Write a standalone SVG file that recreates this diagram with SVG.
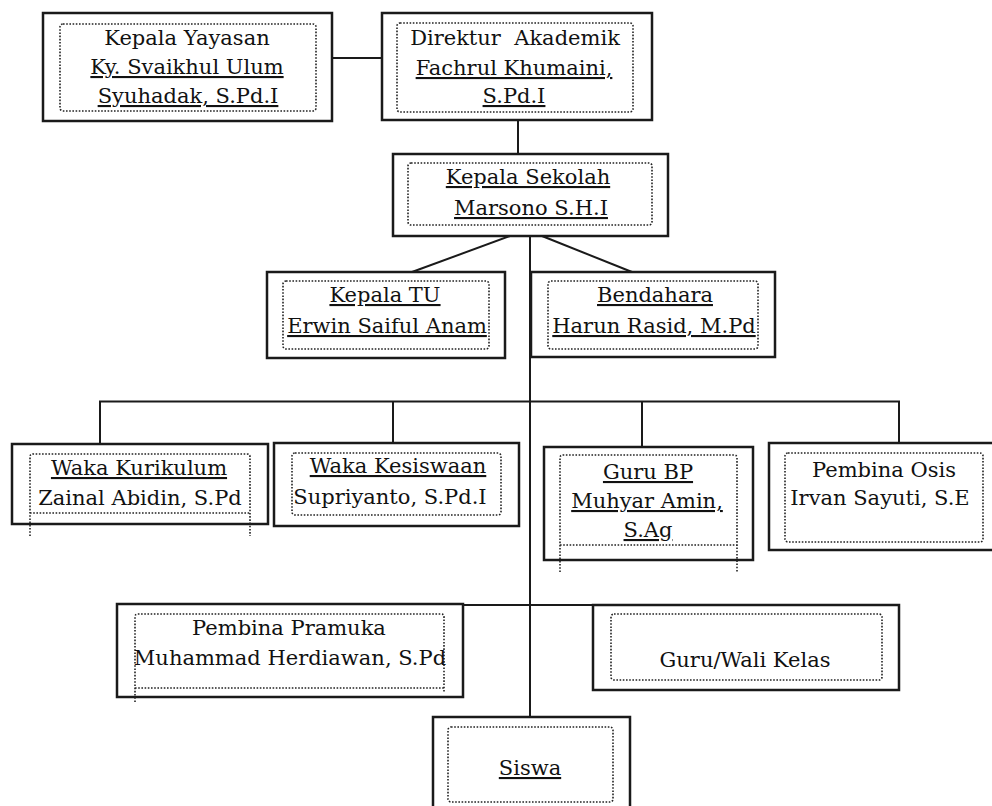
<svg xmlns="http://www.w3.org/2000/svg" width="992" height="806" viewBox="0 0 992 806">
<style>
.box{fill:#fff;stroke:#1a1a1a;stroke-width:2.5}
.dot{fill:none;stroke:#222;stroke-width:1.6;stroke-dasharray:1.6 1.6}
.con{fill:none;stroke:#1a1a1a;stroke-width:2}
text{font-family:"DejaVu Serif","Liberation Serif",serif;font-size:21px;fill:#111;text-anchor:middle}
.u{text-decoration:underline}
</style>
<rect width="992" height="806" fill="#fff"/>
<g id="connectors">
<line class="con" x1="332" y1="58" x2="382" y2="58"/>
<line class="con" x1="518" y1="120" x2="518" y2="154"/>
<line class="con" x1="510" y1="236" x2="412" y2="272"/>
<line class="con" x1="542" y1="236" x2="632" y2="272"/>
<line class="con" x1="530" y1="236" x2="530" y2="717"/>
<polyline class="con" points="100,444 100,401.5 899,401.5 899,443"/>
<line class="con" x1="393" y1="401.5" x2="393" y2="443"/>
<line class="con" x1="642" y1="401.5" x2="642" y2="447"/>
<line class="con" x1="463" y1="605" x2="593" y2="605"/>
</g>
<g id="kepala-yayasan">
<rect class="box" x="43" y="13" width="289" height="108"/>
<rect class="dot" x="60" y="24" width="256" height="87" rx="3"/>
<text x="187" y="45">Kepala Yayasan</text>
<text class="u" x="187" y="74">Ky. Svaikhul Ulum</text>
<text class="u" x="188" y="103">Syuhadak, S.Pd.I</text>
</g>
<g id="direktur">
<rect class="box" x="382" y="13" width="270" height="107"/>
<rect class="dot" x="397" y="23" width="236" height="89" rx="3"/>
<text x="515" y="45" xml:space="preserve">Direktur  Akademik</text>
<text class="u" x="514" y="75">Fachrul Khumaini,</text>
<text class="u" x="514" y="103">S.Pd.I</text>
</g>
<g id="kepala-sekolah">
<rect class="box" x="393" y="154" width="275" height="82"/>
<rect class="dot" x="408" y="163" width="244" height="62" rx="3"/>
<text class="u" x="528" y="184">Kepala Sekolah</text>
<text class="u" x="531" y="215">Marsono S.H.I</text>
</g>
<g id="kepala-tu">
<rect class="box" x="267" y="272" width="238" height="86"/>
<rect class="dot" x="283" y="281" width="206" height="68" rx="3"/>
<text class="u" x="385" y="302">Kepala TU</text>
<text class="u" x="387" y="333">Erwin Saiful Anam</text>
</g>
<g id="bendahara">
<rect class="box" x="531" y="272" width="244" height="85"/>
<rect class="dot" x="548" y="281" width="210" height="68" rx="3"/>
<text class="u" x="655" y="302">Bendahara</text>
<text class="u" x="654" y="333">Harun Rasid, M.Pd</text>
</g>
<g id="waka-kurikulum">
<rect class="box" x="12" y="444" width="256" height="80"/>
<path class="dot" d="M30,536 V457 Q30,454 33,454 H247 Q250,454 250,457 V536 M30,513 H250"/>
<text class="u" x="139" y="475">Waka Kurikulum</text>
<text x="140" y="505">Zainal Abidin, S.Pd</text>
</g>
<g id="waka-kesiswaan">
<rect class="box" x="274" y="443" width="245" height="83"/>
<rect class="dot" x="292" y="453" width="209" height="62" rx="3"/>
<text class="u" x="398" y="473">Waka Kesiswaan</text>
<text x="390" y="504">Supriyanto, S.Pd.I</text>
</g>
<g id="guru-bp">
<rect class="box" x="544" y="447" width="209" height="113"/>
<path class="dot" d="M560,572 V458 Q560,455 563,455 H734 Q737,455 737,458 V572 M560,545 H737"/>
<text class="u" x="648" y="479">Guru BP</text>
<text class="u" x="647" y="508">Muhyar Amin,</text>
<text class="u" x="648" y="537">S.Ag</text>
</g>
<g id="pembina-osis">
<rect class="box" x="769" y="443" width="230" height="107"/>
<rect class="dot" x="785" y="453" width="198" height="89" rx="3"/>
<text x="884" y="477">Pembina Osis</text>
<text x="880" y="505">Irvan Sayuti, S.E</text>
</g>
<g id="pembina-pramuka">
<rect class="box" x="117" y="604" width="346" height="93"/>
<path class="dot" d="M135,702 V617 Q135,614 138,614 H441 Q444,614 444,617 V693 M135,688 H444"/>
<text x="289" y="635">Pembina Pramuka</text>
<text x="290" y="665">Muhammad Herdiawan, S.Pd</text>
</g>
<g id="guru-wali-kelas">
<rect class="box" x="593" y="605" width="306" height="85"/>
<rect class="dot" x="611" y="614" width="271" height="66" rx="3"/>
<text x="745" y="667">Guru/Wali Kelas</text>
</g>
<g id="siswa">
<rect class="box" x="433" y="717" width="197" height="110"/>
<rect class="dot" x="448" y="727" width="165" height="75" rx="3"/>
<text class="u" x="530" y="775">Siswa</text>
</g>
</svg>
